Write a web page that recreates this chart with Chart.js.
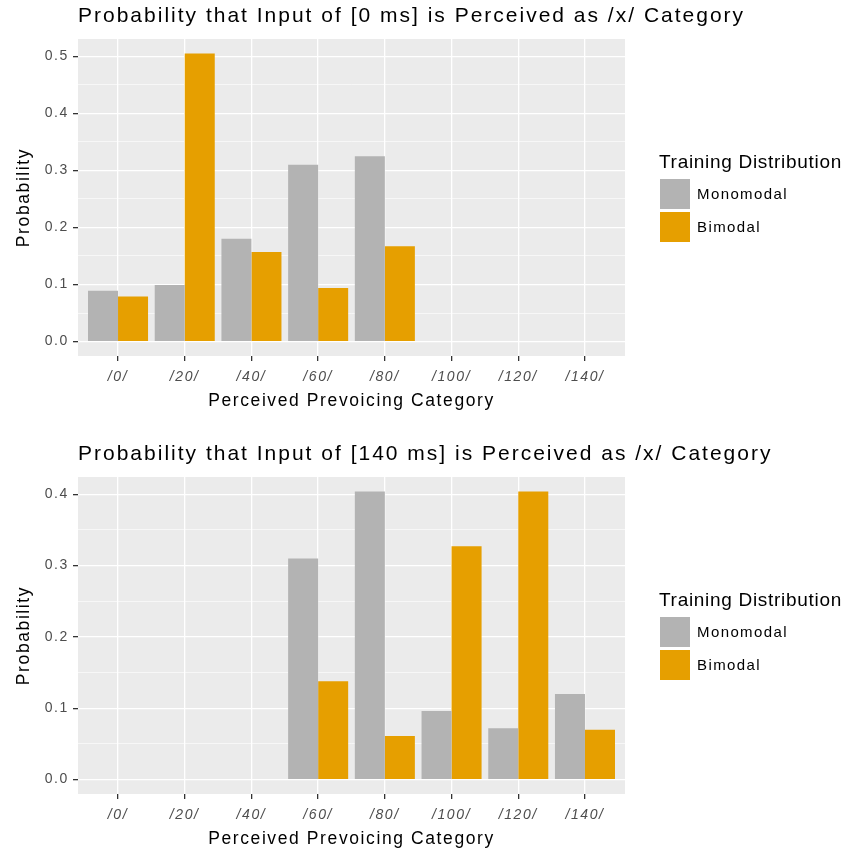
<!DOCTYPE html>
<html>
<head>
<meta charset="utf-8">
<script src="https://cdn.jsdelivr.net/npm/chart.js@4.4.1/dist/chart.umd.min.js"></script>
<style>
  html, body { margin: 0; padding: 0; background: #fff; width: 847px; height: 856px; overflow: hidden; }
  body { position: relative; font-family: "Liberation Sans", Arial, sans-serif; }
  canvas { position: absolute; left: 0; }
  .legend { position: absolute; left: 659px; color: #000; }
  .legend .ttl { font-size: 19px; letter-spacing: 0.7px; height: 22px; line-height: 22px; margin-bottom: 4px; }
  .legend .row { display: flex; align-items: center; height: 33px; }
  .legend .key { width: 30px; height: 30px; margin: 0 7px 0 1px; }
  .legend .lab { font-size: 15px; letter-spacing: 1.4px; }
</style>
</head>
<body>
<canvas id="top" width="847" height="420" style="top:0px"></canvas>
<canvas id="bottom" width="847" height="420" style="top:438px"></canvas>

<div class="legend" style="top:151px">
  <div class="ttl">Training Distribution</div>
  <div class="row"><div class="key" style="background:#B3B3B3"></div><span class="lab">Monomodal</span></div>
  <div class="row"><div class="key" style="background:#E69F00"></div><span class="lab">Bimodal</span></div>
</div>
<div class="legend" style="top:589px">
  <div class="ttl">Training Distribution</div>
  <div class="row"><div class="key" style="background:#B3B3B3"></div><span class="lab">Monomodal</span></div>
  <div class="row"><div class="key" style="background:#E69F00"></div><span class="lab">Bimodal</span></div>
</div>

<script>
const categories = ['/0/', '/20/', '/40/', '/60/', '/80/', '/100/', '/120/', '/140/'];

// input 0 ms
const mono0 = [0.089, 0.099, 0.180, 0.310, 0.325, null, null, null];
const bi0   = [0.079, 0.505, 0.157, 0.094, 0.167, null, null, null];

// input 140 ms
const mono140 = [null, null, null, 0.310, 0.404, 0.096, 0.072, 0.120];
const bi140   = [null, null, null, 0.138, 0.061, 0.327, 0.404, 0.070];

const FONT = '"Liberation Sans", Arial, sans-serif';

// grey panel + slightly wider text, like the original render
const panelBg = {
  id: 'panelBg',
  beforeDraw(chart) {
    const a = chart.chartArea, ctx = chart.ctx;
    ctx.letterSpacing = '1.6px';
    ctx.save();
    ctx.fillStyle = '#EBEBEB';
    ctx.fillRect(a.left, a.top, a.right - a.left, a.bottom - a.top);
    ctx.restore();
  }
};

// ggplot-style title, left aligned to the panel, not squeezed
const panelTitle = {
  id: 'panelTitle',
  afterDraw(chart, args, opts) {
    const ctx = chart.ctx;
    ctx.save();
    ctx.letterSpacing = '2px';
    ctx.font = '21px ' + FONT;
    ctx.fillStyle = '#000';
    ctx.textAlign = 'left';
    ctx.textBaseline = 'alphabetic';
    ctx.fillText(opts.text, chart.chartArea.left, 21.7);
    ctx.restore();
  }
};

function isMajor(v) {
  return Math.abs(v * 10 - Math.round(v * 10)) < 1e-6;
}

function makeChart(id, title, mono, bi) {
  const all = mono.concat(bi).filter(v => v != null);
  const top = Math.max(...all);
  const pad = top * 0.05;
  const yTicks = [];
  for (let v = 0; v <= top + 1e-9; v += 0.05) yTicks.push(Math.round(v * 100) / 100);

  const toPts = arr => arr.map((v, i) => ({ x: i, y: v }));

  return new Chart(document.getElementById(id), {
    type: 'bar',
    data: {
      datasets: [
        { label: 'Monomodal', data: toPts(mono), backgroundColor: '#B3B3B3' },
        { label: 'Bimodal', data: toPts(bi), backgroundColor: '#E69F00' }
      ]
    },
    plugins: [panelBg, panelTitle],
    options: {
      responsive: false,
      animation: false,
      events: [],
      categoryPercentage: 0.9,
      barPercentage: 1.0,
      layout: { padding: { left: 0, right: 222, top: 39, bottom: 0 } },
      plugins: {
        legend: { display: false },
        tooltip: { enabled: false },
        title: { display: false },
        panelTitle: { text: title }
      },
      scales: {
        x: {
          type: 'linear',
          min: -0.6,
          max: categories.length - 0.4,
          offset: false,
          afterBuildTicks: s => { s.ticks = categories.map((c, i) => ({ value: i })); },
          afterFit: s => { s.height = 64; },
          ticks: {
            callback: v => categories[v],
            color: '#4D4D4D',
            font: { family: FONT, size: 14, style: 'italic' },
            padding: 8,
            maxRotation: 0,
            autoSkip: false
          },
          grid: { color: '#FFFFFF', lineWidth: 1.3, tickColor: '#333333', tickLength: 5, offset: false },
          border: { display: false },
          title: {
            display: true,
            text: 'Perceived Prevoicing Category',
            color: '#000',
            font: { family: FONT, size: 17.5 },
            padding: { top: 0, bottom: 8 }
          }
        },
        y: {
          min: -pad,
          max: top + pad,
          afterBuildTicks: s => { s.ticks = yTicks.map(v => ({ value: v })); },
          afterFit: s => { s.width = 78; },
          ticks: {
            callback: v => isMajor(v) ? v.toFixed(1) : '',
            color: '#4D4D4D',
            font: { family: FONT, size: 14 },
            padding: 4
          },
          grid: {
            color: '#FFFFFF',
            lineWidth: c => isMajor(c.tick.value) ? 1.3 : 0.6,
            tickColor: c => isMajor(c.tick.value) ? '#333333' : 'rgba(0,0,0,0)',
            tickLength: 5
          },
          border: { display: false },
          title: {
            display: true,
            text: 'Probability',
            color: '#000',
            font: { family: FONT, size: 17.5 },
            padding: { top: 14, bottom: 0 }
          }
        }
      }
    }
  });
}

makeChart('top', 'Probability that Input of [0 ms] is Perceived as /x/ Category', mono0, bi0);
makeChart('bottom', 'Probability that Input of [140 ms] is Perceived as /x/ Category', mono140, bi140);
</script>
</body>
</html>
